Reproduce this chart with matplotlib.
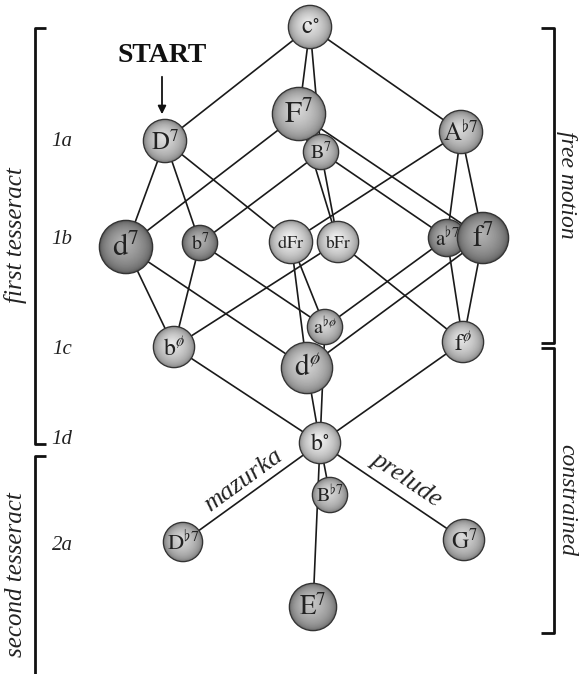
import matplotlib
matplotlib.use('Agg')
import matplotlib.pyplot as plt
from matplotlib.patches import Circle
import numpy as np

plt.rcParams['font.family'] = ['Liberation Serif', 'DejaVu Serif']
plt.rcParams['mathtext.fontset'] = 'stix'

# chord nodes: label base, superscript, position (px), radius, shade (0 dark .. 1 light)
node_names = ['c0', 'D7', 'F7', 'Ab7', 'B7',
              'd7', 'b7', 'dFr', 'bFr', 'ab7', 'f7',
              'bo', 'abo', 'do', 'fo',
              'bdim', 'Bb7', 'Db7', 'G7', 'E7']
node_base = ['c', 'D', 'F', 'A', 'B',
             'd', 'b', 'dFr', 'bFr', 'a', 'f',
             'b', 'a', 'd', 'f',
             'b', 'B', 'D', 'G', 'E']
node_sup = ['\\circ', '7', '7', '\\flat 7', '7',
            '7', '7', '', '', '\\flat 7', '7',
            'ø', '\\flat ø', 'ø', 'ø',
            '\\circ', '\\flat 7', '\\flat 7', '7', '7']
node_x = [310, 165, 299, 461, 321,
          126, 200, 291, 338, 447, 483,
          174, 325, 307, 463,
          320, 330, 183, 464, 313]
node_y = [27, 141, 114, 132, 152,
          247, 243, 242, 242, 238, 238,
          347, 327, 368, 342,
          443, 495, 542, 540, 607]
node_r = [21, 21, 26, 21, 17,
          26, 17, 21, 20, 18, 25,
          20, 17, 25, 20,
          20, 17, 19, 20, 23]
node_shade = [0.85, 0.75, 0.7, 0.72, 0.7,
              0.35, 0.38, 0.92, 0.92, 0.38, 0.35,
              0.82, 0.72, 0.68, 0.82,
              0.92, 0.72, 0.7, 0.72, 0.55]

edges = [('c0', 'D7'), ('c0', 'F7'), ('c0', 'Ab7'), ('c0', 'B7'),
         ('D7', 'd7'), ('D7', 'b7'), ('D7', 'dFr'),
         ('F7', 'd7'), ('F7', 'f7'), ('F7', 'bFr'),
         ('Ab7', 'f7'), ('Ab7', 'ab7'), ('Ab7', 'dFr'),
         ('B7', 'b7'), ('B7', 'ab7'), ('B7', 'bFr'),
         ('d7', 'bo'), ('d7', 'do'), ('b7', 'bo'), ('b7', 'abo'),
         ('dFr', 'abo'), ('dFr', 'do'), ('bFr', 'bo'), ('bFr', 'fo'),
         ('ab7', 'abo'), ('ab7', 'fo'), ('f7', 'fo'), ('f7', 'do'),
         ('bo', 'bdim'), ('abo', 'bdim'), ('do', 'bdim'), ('fo', 'bdim'),
         ('bdim', 'Db7'), ('bdim', 'G7'), ('bdim', 'E7'), ('bdim', 'Bb7')]

row_labels = ['1a', '1b', '1c', '1d', '2a']
row_y = [142, 240, 350, 440, 545]

fig = plt.figure(figsize=(5.8, 6.74), dpi=100)
ax = fig.add_axes([0, 0, 1, 1])
ax.set_xlim(0, 580)
ax.set_ylim(674, 0)
ax.axis('off')

idx = {n: i for i, n in enumerate(node_names)}

# edges
for a, b in edges:
    i, j = idx[a], idx[b]
    ax.plot([node_x[i], node_x[j]], [node_y[i], node_y[j]],
            color='#1a1a1a', lw=1.2, zorder=1, solid_capstyle='round')


def draw_sphere(x, y, r, shade):
    edge = np.array([0.22, 0.22, 0.22]) + 0.35 * shade
    top = np.clip(np.array([0.55, 0.55, 0.55]) + 0.45 * shade, 0, 1)
    ax.add_patch(Circle((x, y), r + 0.6, color='#333333', zorder=2))
    n = 40
    for k in range(n):
        t = k / n
        rr = r * (1 - t)
        cx = x - 0.1 * r * t
        cy = y - 0.2 * r * t
        c = edge + (top - edge) * (t ** 0.5)
        ax.add_patch(Circle((cx, cy), rr, color=tuple(c), zorder=2, lw=0))


for i in range(len(node_names)):
    draw_sphere(node_x[i], node_y[i], node_r[i], node_shade[i])
    if node_sup[i]:
        lab = '$\\mathrm{%s}^{%s}$' % (node_base[i], node_sup[i])
    else:
        lab = '$\\mathrm{%s}$' % node_base[i]
    fs = 0.85 * node_r[i]
    if node_base[i] in ('dFr', 'bFr'):
        fs = 0.62 * node_r[i]
    ax.text(node_x[i], node_y[i] + 1, lab, ha='center', va='center',
            fontsize=fs, color='#222222', zorder=3)

# row labels
for lab, y in zip(row_labels, row_y):
    ax.text(62, y, lab, ha='center', va='center', fontsize=15,
            style='italic', color='#222222')

# start marker
ax.text(162, 56, 'START', ha='center', va='center', fontsize=20,
        fontweight='bold', color='#111111')
ax.annotate('', xy=(162, 117), xytext=(162, 74),
            arrowprops=dict(arrowstyle='-|>', color='#111111', lw=1.3,
                            mutation_scale=12))

# path labels
ax.text(243, 480, 'mazurka', ha='center', va='center', fontsize=19,
        style='italic', rotation=36, color='#222222')
ax.text(407, 479, 'prelude', ha='center', va='center', fontsize=19,
        style='italic', rotation=-34, color='#222222')

# brackets
bk = dict(color='#111111', lw=2, solid_capstyle='butt')
ax.plot([46, 35, 35, 46], [28, 28, 444, 444], **bk)
ax.plot([46, 35, 35], [456, 456, 680], **bk)
ax.plot([541, 554, 554, 541], [28, 28, 343, 343], **bk)
ax.plot([541, 554, 554, 541], [348, 348, 633, 633], **bk)

ax.text(16, 235, 'first tesseract', ha='center', va='center', fontsize=18,
        style='italic', rotation=90, color='#222222')
ax.text(16, 575, 'second tesseract', ha='center', va='center', fontsize=18,
        style='italic', rotation=90, color='#222222')
ax.text(567, 185, 'free motion', ha='center', va='center', fontsize=17,
        style='italic', rotation=-90, color='#222222')
ax.text(567, 500, 'constrained', ha='center', va='center', fontsize=17,
        style='italic', rotation=-90, color='#222222')

fig.savefig('out.png', dpi=100)
